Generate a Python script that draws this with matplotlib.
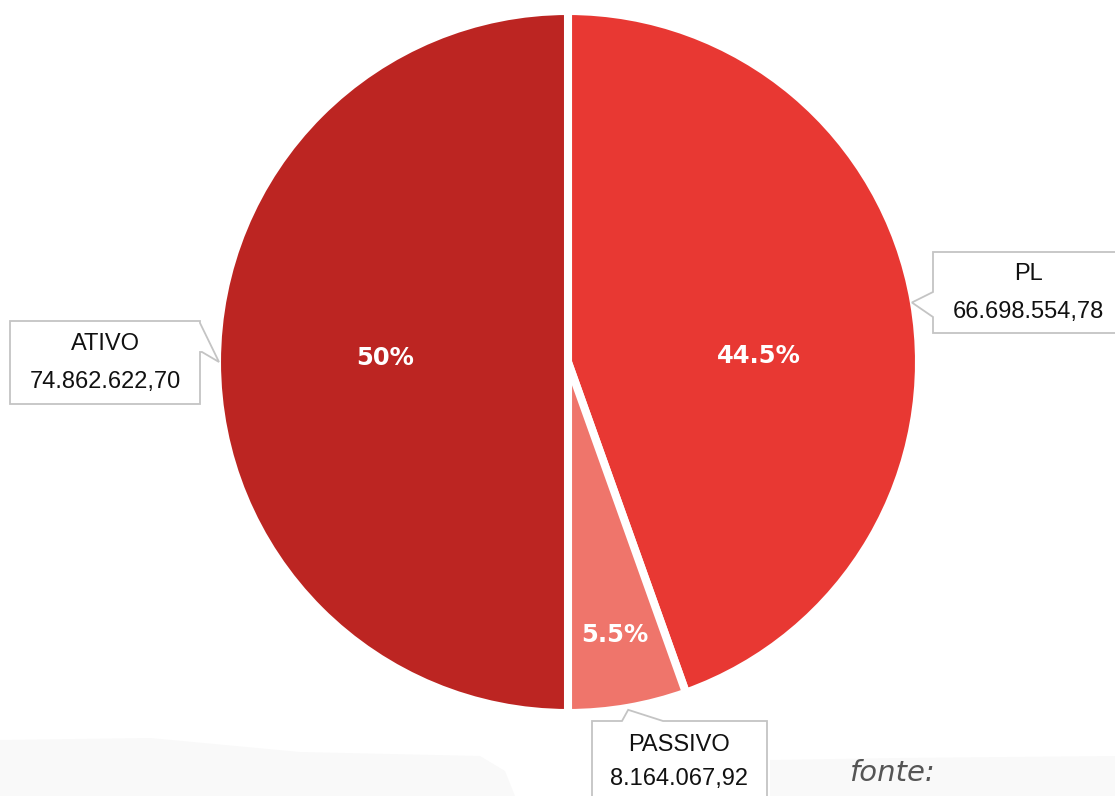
import matplotlib.pyplot as plt
from matplotlib.patches import Polygon
import numpy as np

labels = ["PL", "PASSIVO", "ATIVO"]
values = [66698554.78, 8164067.92, 74862622.70]
value_text = ["66.698.554,78", "8.164.067,92", "74.862.622,70"]
colors = ["#E83833", "#EF756B", "#BC2522"]
pct_dist = [0.545, 0.79, 0.52]
pct_turn = [-8, 0, -1.2]  # degrees, nudge label off the mid angle

W, H = 1115, 796
fig = plt.figure(figsize=(W / 100, H / 100), dpi=100)
ax = fig.add_axes([0, 0, 1, 1])

# faint grey band at the bottom of the page
band = Polygon([(0, 56), (150, 58), (300, 44), (480, 40), (505, 25), (515, 0), (0, 0)],
               closed=True, facecolor="#F9F9F9", edgecolor="none", zorder=0)
ax.add_patch(band)
band2 = Polygon([(770, 36), (900, 38), (1115, 40), (1115, 0), (770, 0)],
                closed=True, facecolor="#F9F9F9", edgecolor="none", zorder=0)
ax.add_patch(band2)

cx, cy, r = 568, H - 362, 351
wedges, _ = ax.pie(values, colors=colors, startangle=90, counterclock=False,
                   center=(cx, cy), radius=r, frame=True,
                   wedgeprops=dict(edgecolor="white", linewidth=5.8))
ax.set_xlim(0, W)
ax.set_ylim(0, H)
ax.set_aspect("equal")
ax.axis("off")

total = sum(values)
for w, v, d, t in zip(wedges, values, pct_dist, pct_turn):
    mid = np.deg2rad((w.theta1 + w.theta2) / 2 + t)
    p = 100 * v / total
    s = f"{p:.1f}".rstrip("0").rstrip(".") + "%"
    ax.text(cx + d * r * np.cos(mid), cy + d * r * np.sin(mid), s,
            ha="center", va="center", color="white", fontsize=17.5,
            fontweight="bold", family="DejaVu Sans", zorder=5)

# callout boxes (pixel coords, y from top)
def callout(pts):
    poly = Polygon([(x, H - y) for x, y in pts], closed=True,
                   facecolor="white", edgecolor="#C4C4C4", linewidth=1.3, zorder=4)
    ax.add_patch(poly)

def tip(i, extra=2):
    w = wedges[i]
    mid = np.deg2rad((w.theta1 + w.theta2) / 2)
    return cx + (r + extra) * np.cos(mid), H - (cy + (r + extra) * np.sin(mid))

txt = dict(ha="center", va="center", fontsize=17, family="Liberation Sans",
           color="#111111", zorder=5)

# PL
tx, ty = tip(0, -2)
callout([(933, 252), (1120, 252), (1120, 333), (933, 333), (933, 317),
         (tx, ty), (933, 292)])
ax.text(1028, H - 274, labels[0], **txt)
ax.text(1028, H - 312, value_text[0], **txt)

# PASSIVO
tx, ty = tip(1, 2)
callout([(592, 721), (622, 721), (tx, ty), (663, 721), (767, 721),
         (767, 800), (592, 800)])
ax.text(679, H - 745, labels[1], **txt)
ax.text(679, H - 779, value_text[1], **txt)

# ATIVO
tx, ty = tip(2, -2)
callout([(10, 321), (200, 321), (200, 323), (tx, ty), (202, 352),
         (200, 352), (200, 404), (10, 404)])
ax.text(105, H - 344, labels[2], **txt)
ax.text(105, H - 382, value_text[2], **txt)

ax.text(849, H - 773, "fonte:", ha="left", va="center", fontsize=21,
        family="DejaVu Sans", style="italic", color="#555555", zorder=5)

fig.savefig("out.png", dpi=100)
